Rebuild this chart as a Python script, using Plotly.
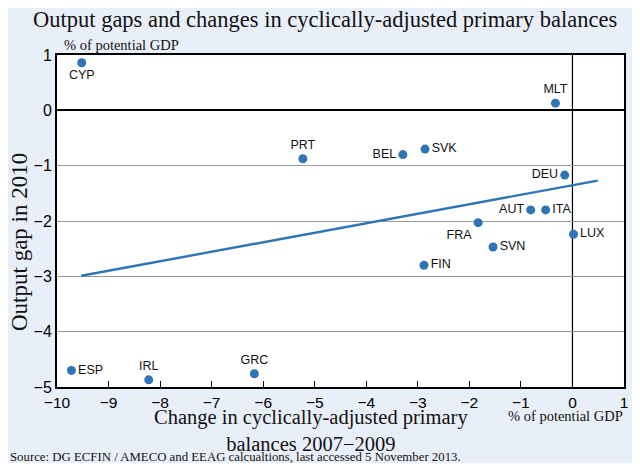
import plotly.graph_objects as go

countries = ["CYP", "MLT", "PRT", "BEL", "SVK", "DEU", "AUT", "ITA", "FRA", "LUX", "SVN", "FIN", "ESP", "IRL", "GRC"]
cab_change = [-9.52, -0.33, -5.23, -3.29, -2.86, -0.15, -0.81, -0.52, -1.83, 0.02, -1.54, -2.88, -9.72, -8.22, -6.17]
output_gap = [0.86, 0.13, -0.875, -0.80, -0.70, -1.17, -1.80, -1.80, -2.03, -2.24, -2.47, -2.80, -4.70, -4.87, -4.76]
label_pos = ["bottom center", "top center", "top center", "middle left", "middle right", "middle left",
             "middle left", "middle right", "bottom left", "middle right", "middle right", "middle right",
             "middle right", "top center", "top center"]
trend_x = [-9.53, 0.49]
trend_y = [-2.99, -1.27]
x_ticks = list(range(-10, 2))
y_ticks = list(range(-5, 2))

blue = "#2f74b5"
bg = "#e9eff9"
serif = "Liberation Serif, Times New Roman, serif"
sans = "Liberation Sans, Arial, sans-serif"

fig = go.Figure()
fig.add_trace(go.Scatter(x=trend_x, y=trend_y, mode="lines",
                         line=dict(color=blue, width=2.4), hoverinfo="skip"))
fig.add_trace(go.Scatter(x=cab_change, y=output_gap, mode="markers+text",
                         text=countries, textposition=label_pos,
                         textfont=dict(family=sans, size=12.5, color="#111"),
                         marker=dict(color=blue, size=9)))

fig.add_shape(type="line", x0=0, x1=0, y0=-5, y1=1, xref="x", yref="y",
              line=dict(color="black", width=1.2), layer="below")

# the page body adds an 8px margin; size the figure so the page fits the window exactly
fig.update_layout(
    width=624, height=455,
    paper_bgcolor=bg, plot_bgcolor="white",
    margin=dict(l=49, r=4, t=47, b=76),
    showlegend=False,
    font=dict(family=sans, size=15, color="black"),
    xaxis=dict(range=[-10, 1], tickvals=x_ticks,
               ticktext=[str(v).replace("-", "\u2212") for v in x_ticks],
               showgrid=False, zeroline=False,
               showline=True, linecolor="black", linewidth=2, mirror=True,
               ticks="inside", ticklen=6, tickcolor="black", tickwidth=1,
               tickfont=dict(family=sans, size=15.5)),
    yaxis=dict(range=[-5, 1], tickvals=y_ticks,
               ticktext=[str(v).replace("-", "\u2212") for v in y_ticks],
               showgrid=True, gridcolor="#999999", gridwidth=1,
               zeroline=True, zerolinecolor="black", zerolinewidth=1.5,
               showline=True, linecolor="black", linewidth=2, mirror=True,
               ticks="", tickfont=dict(family=sans, size=16)),
    annotations=[
        dict(text="Output gaps and changes in cyclically-adjusted primary balances",
             xref="paper", yref="paper", x=0.5, xshift=-16, y=1, yshift=36,
             xanchor="center", yanchor="middle",
             showarrow=False, font=dict(family=serif, size=22.5, color="#111")),
        dict(text="% of potential GDP", xref="paper", yref="paper", x=0, xshift=5, y=1, yshift=10,
             xanchor="left", yanchor="middle", showarrow=False,
             font=dict(family=serif, size=14.5, color="#111")),
        dict(text="Output gap in 2010", xref="paper", yref="paper", x=0, xshift=-38, y=0.5, yshift=-21,
             xanchor="center", yanchor="middle", textangle=-90, showarrow=False,
             font=dict(family=serif, size=23, color="#111")),
        dict(text="Change in cyclically-adjusted primary<br>balances 2007\u22122009",
             xref="paper", yref="paper", x=0.5, xshift=-30, y=0, yshift=-43,
             xanchor="center", yanchor="middle", showarrow=False,
             font=dict(family=serif, size=20.5, color="#111")),
        dict(text="% of potential GDP", xref="paper", yref="paper", x=1, xshift=1, y=0, yshift=-29,
             xanchor="right", yanchor="middle", showarrow=False,
             font=dict(family=serif, size=14.5, color="#111")),
        dict(text="Source: DG ECFIN / AMECO and EEAG calcualtions, last accessed 5 November 2013.",
             xref="paper", yref="paper", x=0, xshift=-49, y=0, yshift=-70,
             xanchor="left", yanchor="middle", showarrow=False,
             font=dict(family=serif, size=12.8, color="#111")),
    ],
)

fig.write_html("out.html")
